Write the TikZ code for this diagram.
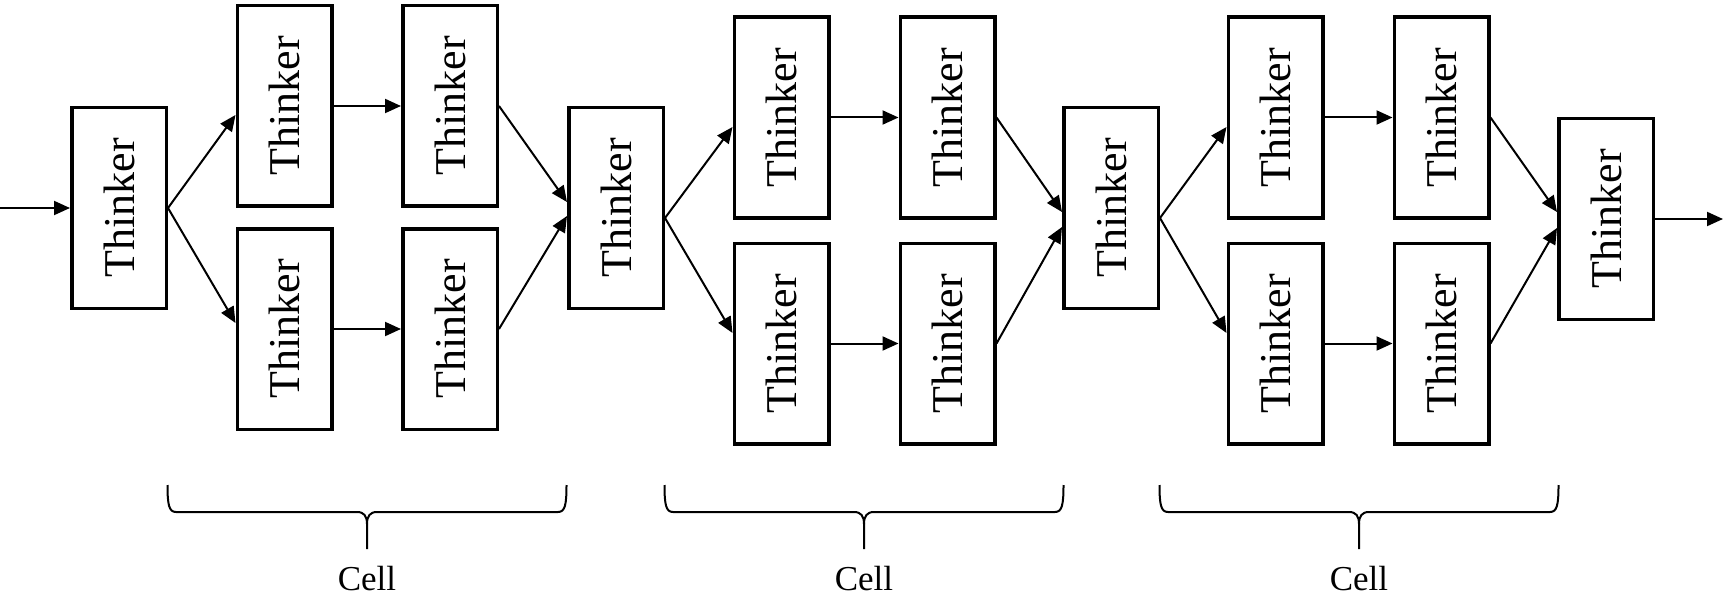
\documentclass[tikz,border=0pt]{standalone}
\usepackage{fontspec}
\setmainfont{Liberation Serif}
\usetikzlibrary{arrows.meta,calc}
\begin{document}
\begin{tikzpicture}[x=1pt,y=-1pt,
  thinker/.style={draw, line width=3.5pt, minimum width=94.5pt, minimum height=200.5pt, inner sep=0pt, font=\fontsize{44}{44}\selectfont},
  conn/.style={line width=2pt, -{Triangle[length=16pt,width=14pt]}},
  bracestyle/.style={line width=2pt},
  celllabel/.style={font=\fontsize{35}{35}\selectfont, anchor=base, inner sep=0pt},
  cellbrace/.pic={
    \draw[bracestyle] (-199.5,-27) .. controls (-199.5,-7) and (-198,0) .. (-191,0) -- (-10,0) .. controls (-3,0) and (0,4) .. (0,12) -- (0,37);
    \draw[bracestyle] (199.5,-27) .. controls (199.5,-7) and (198,0) .. (191,0) -- (10,0) .. controls (3,0) and (0,4) .. (0,12);
  }]
\useasboundingbox (0,0) rectangle (1726,596);

% big thinkers
\node[thinker] (A) at (119,208) {\rotatebox{90}{Thinker}};
\node[thinker] (B) at (616,208) {\rotatebox{90}{Thinker}};
\node[thinker] (C) at (1111,208) {\rotatebox{90}{Thinker}};
\node[thinker] (D) at (1606,219) {\rotatebox{90}{Thinker}};

% group 1
\node[thinker] (g1u1) at (284.5,106) {\rotatebox{90}{Thinker}};
\node[thinker] (g1u2) at (450,106) {\rotatebox{90}{Thinker}};
\node[thinker] (g1l1) at (284.5,329) {\rotatebox{90}{Thinker}};
\node[thinker] (g1l2) at (450,329) {\rotatebox{90}{Thinker}};

% group 2
\node[thinker] (g2u1) at (781.5,117.5) {\rotatebox{90}{Thinker}};
\node[thinker] (g2u2) at (947.5,117.5) {\rotatebox{90}{Thinker}};
\node[thinker] (g2l1) at (781.5,343.5) {\rotatebox{90}{Thinker}};
\node[thinker] (g2l2) at (947.5,343.5) {\rotatebox{90}{Thinker}};

% group 3
\node[thinker] (g3u1) at (1275.5,117.5) {\rotatebox{90}{Thinker}};
\node[thinker] (g3u2) at (1441.5,117.5) {\rotatebox{90}{Thinker}};
\node[thinker] (g3l1) at (1275.5,343.5) {\rotatebox{90}{Thinker}};
\node[thinker] (g3l2) at (1441.5,343.5) {\rotatebox{90}{Thinker}};

\coordinate (in) at (0,208);
\coordinate (out) at (1723,219);

% connectors group 1
\draw[conn] (in) -- (A.west);
\draw[conn] (A.east) -- ($(g1u1.west)+(0,9)$);
\draw[conn] (A.east) -- ($(g1l1.west)+(0,-6)$);
\draw[conn] (g1u1.east) -- (g1u2.west);
\draw[conn] (g1l1.east) -- (g1l2.west);
\draw[conn] (g1u2.east) -- ($(B.west)+(0,-6)$);
\draw[conn] (g1l2.east) -- ($(B.west)+(0,8)$);

% connectors group 2
\draw[conn] ($(B.east)+(0,10)$) -- ($(g2u1.west)+(0,9.5)$);
\draw[conn] ($(B.east)+(0,10)$) -- ($(g2l1.west)+(0,-10.5)$);
\draw[conn] (g2u1.east) -- (g2u2.west);
\draw[conn] (g2l1.east) -- (g2l2.west);
\draw[conn] (g2u2.east) -- ($(C.west)+(0,4)$);
\draw[conn] (g2l2.east) -- ($(C.west)+(0,19)$);

% connectors group 3
\draw[conn] ($(C.east)+(0,10)$) -- ($(g3u1.west)+(0,9.5)$);
\draw[conn] ($(C.east)+(0,10)$) -- ($(g3l1.west)+(0,-10.5)$);
\draw[conn] (g3u1.east) -- (g3u2.west);
\draw[conn] (g3l1.east) -- (g3l2.west);
\draw[conn] (g3u2.east) -- ($(D.west)+(0,-7)$);
\draw[conn] (g3l2.east) -- ($(D.west)+(0,9)$);
\draw[conn] (D.east) -- (out);

% braces and labels
\pic at (367,512) {cellbrace};
\pic at (864,512) {cellbrace};
\pic at (1359,512) {cellbrace};
\node[celllabel] (cell1) at (367,590) {Cell};
\node[celllabel] (cell2) at (864,590) {Cell};
\node[celllabel] (cell3) at (1359,590) {Cell};
\end{tikzpicture}
\end{document}
